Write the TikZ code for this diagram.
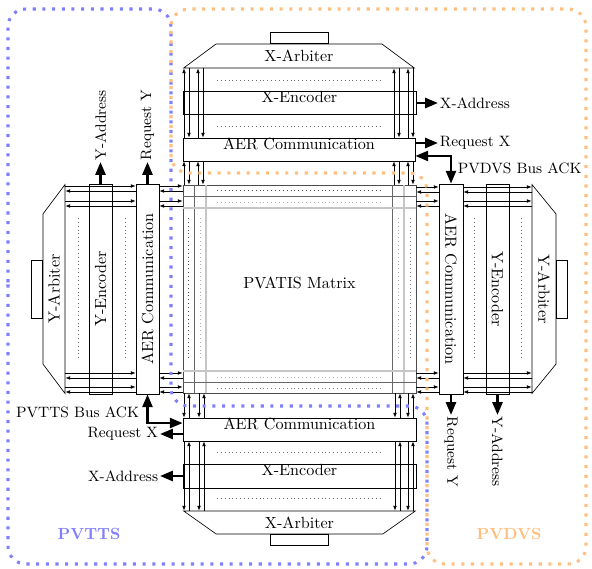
\documentclass[tikz,border=0pt]{standalone}
\usepackage{tikz}
\usetikzlibrary{arrows.meta, positioning, calc, fit, shapes.geometric}
\newcommand{\pxu}{0.62pt}

\begin{document}
\begin{tikzpicture}[x=\pxu, y=-\pxu,
    block/.style={draw, inner sep=0pt},
    arbiter/.style={draw, trapezium, trapezium left angle=41, trapezium right angle=41,
      trapezium stretches=true, inner sep=0pt},
    tab/.style={draw, minimum width=58*\pxu, minimum height=11*\pxu, inner sep=0pt},
    griddk/.style={draw=black!60},
    gridlt/.style={draw=gray!45, line width=0.8pt},
    dots/.style={dotted, black!60},
    sig/.style={-{Latex[length=3pt,width=2.3pt]}},
    bus/.style={-{Triangle[length=8pt,width=6.2pt]}, line width=1.6pt},
    busx/.style={{Triangle[length=8pt,width=6.2pt]}-{Triangle[length=8pt,width=6.2pt]}, line width=1.6pt},
    lbl/.style={font=\fontsize{9.3}{11}\selectfont, inner sep=1pt},
    region/.style={line width=1.9pt, dash pattern=on 1.9pt off 4.1pt, rounded corners=11pt}]
  \useasboundingbox (0,0) rectangle (592,569);

  % pixel matrix
  \node[draw=black!70, inner sep=0pt, fit={(183,185) (416,393)}] (mat) {PVATIS Matrix};
  \foreach \x/\c in {194/dk, 206/lt, 392/dk, 404/lt}
    \draw[grid\c] (\x,0 |- mat.north) -- (\x,0 |- mat.south);
  \foreach \y/\c in {196/dk, 208/lt, 371/lt, 382/dk}
    \draw[grid\c] (mat.west |- 0,\y) -- (mat.east |- 0,\y);
  \foreach \y/\c in {190/black!70, 202/gray!60, 377/gray!60, 388/black!50}
    \draw[dotted, \c] (217,\y) -- (380,\y);
  \foreach \x/\c in {188/black!70, 200/gray!60, 398/gray!60, 410/black!50}
    \draw[dotted, \c] (\x,218) -- (\x,358);

  % top periphery
  \node[arbiter, minimum width=232*\pxu, minimum height=24*\pxu] (arbT) at (299,56) {X-Arbiter};
  \node[tab, anchor=south] (tabT) at (arbT.north) {};
  \node[block, fit={(183,91) (416,114)}] (encT) {X-Encoder};
  \node[block, fit={(183,138) (415,161)}] (aerT) {AER Communication};
  \draw[dots] (217,80) -- (380,80);
  \draw[dots] (217,126) -- (380,126);

  % bottom periphery
  \node[arbiter, shape border rotate=180, minimum width=233*\pxu, minimum height=23*\pxu] (arbB) at (299.5,522.5) {X-Arbiter};
  \node[tab, anchor=north] (tabB) at (arbB.south) {};
  \node[block, fit={(183,464) (416,488)}] (encB) {X-Encoder};
  \node[block, fit={(183,418) (416,441)}] (aerB) {AER Communication};
  \draw[dots] (217,452) -- (380,452);
  \draw[dots] (217,498) -- (380,498);

  % left periphery
  \node[arbiter, rotate=90, minimum width=210*\pxu, minimum height=22*\pxu] (arbL) at (54,289) {Y-Arbiter};
  \node[tab, rotate=90, anchor=south] (tabL) at (arbL.north) {};
  \node[block, fit={(89,184) (112,394)}] (encL) {};
  \node[rotate=90] (encLtxt) at (encL) {Y-Encoder};
  \node[block, fit={(136,184) (159,394)}] (aerL) {};
  \node[rotate=90] (aerLtxt) at (aerL) {AER Communication};
  \draw[dots] (78,218) -- (78,358);
  \draw[dots] (125,218) -- (125,358);

  % right periphery
  \node[arbiter, rotate=-90, minimum width=210*\pxu, minimum height=24*\pxu] (arbR) at (544,289) {Y-Arbiter};
  \node[tab, rotate=-90, anchor=south] (tabR) at (arbR.north) {};
  \node[block, fit={(486,184) (509,394)}] (encR) {};
  \node[rotate=-90] (encRtxt) at (encR) {Y-Encoder};
  \node[block, fit={(439,184) (463,394)}] (aerR) {};
  \node[rotate=-90] (aerRtxt) at (aerR) {AER Communication};
  \draw[dots] (474,218) -- (474,358);
  \draw[dots] (521,218) -- (521,358);

  % request / acknowledge lines
  \foreach \x in {184,198,394,408} {
    \draw[sig] (\x,0 |- aerT.north) -- (\x,0 |- arbT.south);
    \draw[sig] (\x+5,0 |- arbT.south) -- (\x+5,0 |- aerT.north);
    \draw[sig] (\x,0 |- mat.north) -- (\x,0 |- aerT.south);
    \draw[sig] (\x+5,0 |- aerT.south) -- (\x+5,0 |- mat.north);
  }
  \foreach \x in {184,199,395,408} {
    \draw[sig] (\x,0 |- aerB.south) -- (\x,0 |- arbB.north);
    \draw[sig] (\x+5,0 |- arbB.north) -- (\x+5,0 |- aerB.south);
    \draw[sig] (\x,0 |- mat.south) -- (\x,0 |- aerB.north);
    \draw[sig] (\x+5,0 |- aerB.north) -- (\x+5,0 |- mat.south);
  }
  \foreach \y in {186,201,373,387} {
    \draw[sig] (arbL.south |- 0,\y) -- (aerL.west |- 0,\y);
    \draw[sig] (aerL.west |- 0,\y+5) -- (arbL.south |- 0,\y+5);
    \draw[sig] (aerL.east |- 0,\y) -- (mat.west |- 0,\y);
    \draw[sig] (mat.west |- 0,\y+5) -- (aerL.east |- 0,\y+5);
  }
  \foreach \y in {187,201,373,387} {
    \draw[sig] (mat.east |- 0,\y) -- (aerR.west |- 0,\y);
    \draw[sig] (aerR.west |- 0,\y+5) -- (mat.east |- 0,\y+5);
    \draw[sig] (aerR.east |- 0,\y) -- (arbR.south |- 0,\y);
    \draw[sig] (arbR.south |- 0,\y+5) -- (aerR.east |- 0,\y+5);
  }

  % bus outputs
  \node[lbl, rotate=90, anchor=west] (yaddrL) at (100.5,162) {Y-Address};
  \node[lbl, rotate=90, anchor=west] (reqYL) at (147.5,162) {Request Y};
  \node[lbl, anchor=east] (ackL) at (141,412) {PVTTS Bus ACK};
  \node[lbl, anchor=east] (reqXB) at (160,434) {Request X};
  \node[lbl, anchor=east] (xaddrB) at (160,476) {X-Address};
  \node[lbl, anchor=west] (xaddrT) at (438,103) {X-Address};
  \node[lbl, anchor=west] (reqXT) at (438,143) {Request X};
  \node[lbl, anchor=west] (ackR) at (456,168) {PVDVS Bus ACK};
  \node[lbl, rotate=-90, anchor=west] (reqYR) at (451,415) {Request Y};
  \node[lbl, rotate=-90, anchor=west] (yaddrR) at (497.5,415) {Y-Address};

  \draw[bus] (encL.north) -- (yaddrL.west);
  \draw[bus] (aerL.north) -- (reqYL.west);
  \draw[busx] (aerL.south) |- ([yshift=4pt]aerB.west);
  \draw[bus] (aerB.west |- reqXB.east) -- (reqXB.east);
  \draw[bus] (encB.west |- xaddrB.east) -- (xaddrB.east);
  \draw[bus] (encT.east |- xaddrT.west) -- (xaddrT.west);
  \draw[bus] (aerT.east |- reqXT.west) -- (reqXT.west);
  \draw[busx] ([yshift=-4pt]aerT.east) -| (aerR.north);
  \draw[bus] (aerR.south) -- (reqYR.west);
  \draw[bus] (encR.south) -- (yaddrR.west);

  % sensor domains
  \draw[region, blue!50] (8,300) -- (8,9) -- (171,9) -- (171,406) -- (427,406) -- (427,564) -- (8,564) -- cycle;
  \draw[region, orange!50] (171,100) -- (171,9) -- (586,9) -- (586,564) -- (427,564) -- (427,173) -- (171,173) -- cycle;
  \node[font=\bfseries, text=blue!50] (ttsLbl) at (89,534) {PVTTS};
  \node[font=\bfseries, text=orange!50] (dvsLbl) at (509,534) {PVDVS};
\end{tikzpicture}
\end{document}
